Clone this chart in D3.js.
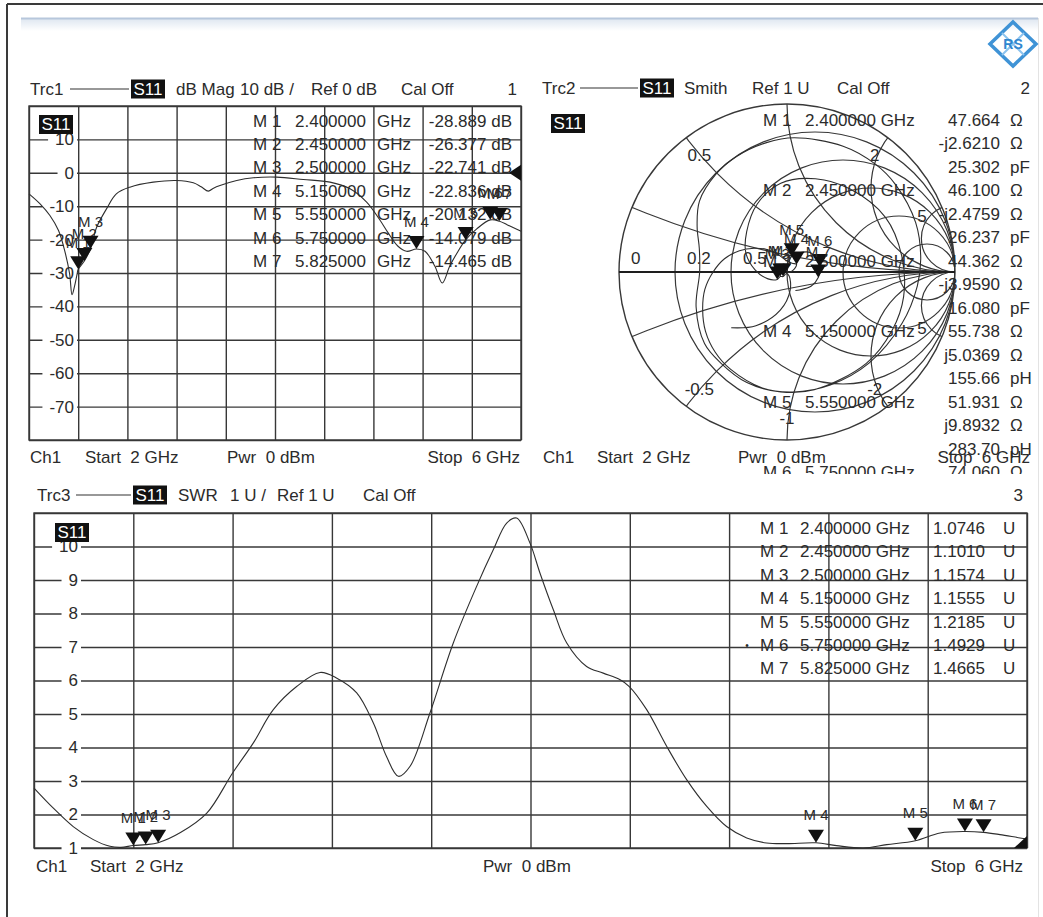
<!DOCTYPE html>
<html>
<head>
<meta charset="utf-8">
<script src="https://cdn.jsdelivr.net/npm/d3@7"></script>
<style>
  body { margin: 0; background: #fff; }
  svg text { font-family: "Liberation Sans", Arial, sans-serif; fill: #2b2b2b; white-space: pre; }
</style>
</head>
<body>
<svg id="vna" width="1043" height="917"></svg>
<script>
// ---------- data ----------
const markerNames = ["M 1", "M 2", "M 3", "M 4", "M 5", "M 6", "M 7"];
const markerFreqs = [2.4, 2.45, 2.5, 5.15, 5.55, 5.75, 5.825];
const markerFreqLabels = ["2.400000", "2.450000", "2.500000", "5.150000", "5.550000", "5.750000", "5.825000"];
const markerDb = [-28.889, -26.377, -22.741, -22.836, -20.132, -14.079, -14.465];
const markerSwr = [1.0746, 1.1010, 1.1574, 1.1555, 1.2185, 1.4929, 1.4665];

const smithReadout = [
  ["47.664", "Ω"], ["-j2.6210", "Ω"], ["25.302", "pF"],
  ["46.100", "Ω"], ["-j2.4759", "Ω"], ["26.237", "pF"],
  ["44.362", "Ω"], ["-j3.9590", "Ω"], ["16.080", "pF"],
  ["55.738", "Ω"], ["j5.0369", "Ω"], ["155.66", "pH"],
  ["51.931", "Ω"], ["j9.8932", "Ω"], ["283.70", "pH"],
  ["74.060", "Ω"]
];
// reflection coefficient (re, im) of each marker on the Smith chart
const smithMarkerGamma = [[-0.023, -0.027], [-0.040, -0.027], [-0.058, -0.044],
  [0.057, 0.045], [0.028, 0.094], [0.195, 0.030], [0.186, -0.033]];

const dbFreq = [2.0, 2.09, 2.17, 2.24, 2.29, 2.33, 2.35, 2.37, 2.39, 2.4, 2.45, 2.5, 2.55, 2.63, 2.71,
  2.82, 3.01, 3.2, 3.336, 3.40, 3.458, 3.50, 3.553, 3.689, 3.824, 4.014, 4.23, 4.447, 4.61, 4.745,
  4.85, 4.92, 5.0, 5.07, 5.15, 5.22, 5.30, 5.36, 5.42, 5.48, 5.55, 5.64, 5.75, 5.825, 5.89, 5.97, 6.0];
const dbVal = [-6.3, -9.3, -12.8, -17.3, -23.3, -30.2, -36.5, -34, -30.5, -28.9, -26.4, -22.7, -16.3, -10.8, -6.3,
  -4.3, -2.8, -2.3, -3.0, -4.2, -5.5, -4.6, -3.8, -2.3, -1.5, -1.3, -2.0, -2.8, -4.8, -8.8,
  -14, -18, -22, -23.5, -22.8, -23.5, -28, -33, -28, -24, -20.1, -16.8, -14.1, -14.5, -15.6, -17.0, -17.5];

const swrFreq = [2.0, 2.078, 2.158, 2.239, 2.306, 2.35, 2.4, 2.45, 2.5, 2.59, 2.696, 2.80, 2.883, 2.964,
  3.058, 3.152, 3.22, 3.30, 3.367, 3.42, 3.468, 3.515, 3.595, 3.689, 3.783, 3.85, 3.904, 3.944, 3.998,
  4.038, 4.092, 4.146, 4.226, 4.293, 4.361, 4.398, 4.468, 4.549, 4.629, 4.710, 4.790, 4.871, 4.951,
  5.032, 5.15, 5.233, 5.341, 5.435, 5.55, 5.65, 5.75, 5.825, 5.891, 5.972, 6.0];
const swrVal = [2.79, 2.19, 1.64, 1.25, 1.05, 1.02, 1.0746, 1.10, 1.157, 1.46, 2.04, 3.24, 4.13, 5.13,
  5.82, 6.24, 6.07, 5.63, 4.73, 3.73, 3.14, 3.44, 5.03, 7.12, 8.81, 9.9, 10.7, 10.85, 10.1,
  9.21, 8.11, 7.12, 6.42, 6.22, 6.02, 5.82, 5.13, 4.03, 3.04, 2.24, 1.64, 1.30, 1.15,
  1.13, 1.1555, 1.07, 1.0, 1.1, 1.2185, 1.45, 1.4929, 1.4665, 1.40, 1.30, 1.27];

const smithTrace = [[-0.332, -0.332], [-0.185, -0.320], [-0.040, -0.227], [0.019, -0.108], [0.012, -0.022],
  [-0.005, -0.010], [-0.023, -0.027], [-0.040, -0.027], [-0.058, -0.044], [-0.113, -0.041], [-0.190, 0.013],
  [-0.245, 0.114], [-0.240, 0.240], [-0.179, 0.402], [-0.037, 0.529], [0.169, 0.555], [0.373, 0.495],
  [0.586, 0.325], [0.683, 0.096], [0.694, -0.148], [0.626, -0.347], [0.472, -0.544], [0.162, -0.701],
  [-0.037, -0.714], [-0.239, -0.658], [-0.394, -0.542], [-0.491, -0.426], [-0.541, -0.208], [-0.520, 0.0],
  [-0.522, 0.140], [-0.535, 0.272], [-0.521, 0.422], [-0.423, 0.582], [-0.305, 0.685], [-0.122, 0.770],
  [0.042, 0.799], [0.334, 0.749], [0.522, 0.645], [0.645, 0.522], [0.766, 0.294], [0.796, 0.084],
  [0.776, -0.082], [0.685, -0.305], [0.488, -0.542], [0.258, -0.672], [0.037, -0.714], [-0.147, -0.690],
  [-0.335, -0.580], [-0.428, -0.476], [-0.485, -0.353], [-0.502, -0.224], [-0.489, -0.104], [-0.440, 0.0],
  [-0.372, 0.079], [-0.283, 0.126], [-0.194, 0.141], [-0.120, 0.134], [-0.065, 0.113], [-0.006, 0.070],
  [0.030, 0.052], [0.057, 0.045], [0.035, 0.010], [0.005, 0.0], [0.010, 0.050], [0.028, 0.094],
  [0.138, 0.116], [0.195, 0.030], [0.186, -0.033], [0.145, -0.083], [0.075, -0.107], [0.050, -0.110]];

const freqGrid = [2.0, 2.4, 2.8, 3.2, 3.6, 4.0, 4.4, 4.8, 5.2, 5.6, 6.0];
const dbTicks = [10, 0, -10, -20, -30, -40, -50, -60, -70];
const dbGrid = [20, 10, 0, -10, -20, -30, -40, -50, -60, -70, -80];
const swrTicks = [10, 9, 8, 7, 6, 5, 4, 3, 2, 1];
const swrGrid = [11, 10, 9, 8, 7, 6, 5, 4, 3, 2, 1];
const smithR = [0.2, 0.5, 1, 2, 5];
const smithX = [0.2, 0.5, 1, 2, 5, -0.2, -0.5, -1, -2, -5];
const smithRLabels = [[0, "0"], [0.2, "0.2"], [0.5, "0.5"]];
const smithXLabels = [[0.5, "0.5"], [2, "2"], [5, "5"], [-0.5, "-0.5"], [-1, "-1"], [-2, "-2"], [-5, "5"]];

// ---------- helpers ----------
const GRID = "#383838";
const svg = d3.select("#vna");

function txt(g, x, y, s, opt = {}) {
  return g.append("text")
    .attr("x", x).attr("y", y).attr("dy", "0.35em")
    .attr("text-anchor", opt.anchor || "start")
    .style("font-size", (opt.size || 17) + "px")
    .style("fill", opt.fill || null)
    .text(s);
}

function s11Box(g, x, y) {
  g.append("rect").attr("x", x).attr("y", y).attr("width", 34).attr("height", 19).attr("fill", "#111");
  txt(g, x + 17, y + 9.5, "S11", { anchor: "middle", fill: "#fff" });
}

function header(g, y, o) {
  txt(g, o.trc[0], y, o.trc[1]);
  g.append("line").attr("x1", o.line[0]).attr("x2", o.line[1]).attr("y1", y).attr("y2", y)
    .attr("stroke", "#333").attr("stroke-width", 1.2);
  s11Box(g, o.box, y - 9.5);
  o.items.forEach(([x, s]) => txt(g, x, y, s));
  txt(g, o.num[0], y, o.num[1], { anchor: "end" });
}

function footer(g, y, o) {
  txt(g, o.ch, y, "Ch1");
  txt(g, o.start, y, "Start  2 GHz");
  txt(g, o.pwr, y, "Pwr  0 dBm");
  txt(g, o.stop, y, "Stop  6 GHz", { anchor: "end" });
}

function marker(g, x, y, name, lift) {
  g.append("path").attr("d", `M${x - 8},${y - 13}L${x + 8},${y - 13}L${x},${y}Z`).attr("fill", "#111");
  txt(g, x, y - lift, name, { anchor: "middle", size: 15 });
}

function rectGrid(g, x, y, xTicks, yTicks) {
  const [xl, xr] = x.range(), [yb, yt] = y.range();
  g.append("g").attr("transform", `translate(0,${yb})`)
    .call(d3.axisBottom(x).tickValues(xTicks).tickSize(yt - yb).tickFormat(""))
    .call(a => a.select(".domain").remove());
  g.append("g").attr("transform", `translate(${xl},0)`)
    .call(d3.axisLeft(y).tickValues(yTicks).tickSize(xl - xr).tickFormat(""))
    .call(a => a.select(".domain").remove());
  g.selectAll(".tick line").attr("stroke", GRID).attr("stroke-width", 1.4);
  g.append("rect").attr("x", xl).attr("y", yt).attr("width", xr - xl).attr("height", yb - yt)
    .attr("fill", "none").attr("stroke", GRID).attr("stroke-width", 1.4);
}

function yLabels(g, y, ticks, right) {
  ticks.forEach(v => {
    const t = txt(g, right, y(v), String(v), { anchor: "end" });
    const w = t.node().getComputedTextLength();
    g.insert("rect", () => t.node()).attr("x", right - w - 7).attr("y", y(v) - 8)
      .attr("width", w + 10).attr("height", 16).attr("fill", "#fff");
  });
}

// ---------- page frame ----------
const defs = svg.append("defs");
const grad = defs.append("linearGradient").attr("id", "fade").attr("x1", 0).attr("x2", 0).attr("y1", 0).attr("y2", 1);
grad.append("stop").attr("offset", 0).attr("stop-color", "#dfe7f1");
grad.append("stop").attr("offset", 1).attr("stop-color", "#ffffff");
svg.append("rect").attr("x", 21).attr("y", 19).attr("width", 1017).attr("height", 12).attr("fill", "url(#fade)");
svg.append("line").attr("x1", 21).attr("x2", 1038).attr("y1", 18.5).attr("y2", 18.5).attr("stroke", "#b7c7dc").attr("stroke-width", 2);
svg.append("line").attr("x1", 1038.5).attr("x2", 1038.5).attr("y1", 18).attr("y2", 917).attr("stroke", "#e3e3e3");
svg.append("line").attr("x1", 7).attr("x2", 1043).attr("y1", 4).attr("y2", 4).attr("stroke", "#3a3a3a").attr("stroke-width", 2);
svg.append("line").attr("x1", 7).attr("x2", 7).attr("y1", 4).attr("y2", 917).attr("stroke", "#3a3a3a").attr("stroke-width", 2);

// R&S logo
const logo = svg.append("g").attr("transform", "translate(1013,44)");
logo.append("path").attr("d", "M0,-22L23,0L0,22L-23,0Z").attr("fill", "none").attr("stroke", "#3f93d6").attr("stroke-width", 3.5);
logo.append("path").attr("d", "M-11,-11L11,11M11,-11L-11,11").attr("stroke", "#8cc3ee").attr("stroke-width", 2);
txt(logo, 0, 0, "RS", { anchor: "middle", size: 14, fill: "#2f86cf" }).style("font-weight", "bold");

// ---------- trace 1 : dB magnitude ----------
const x1 = d3.scaleLinear().domain([2, 6]).range([29, 521]);
const y1 = d3.scaleLinear().domain([-80, 20]).range([440, 106]);
const p1 = svg.append("g");
header(p1, 89, { trc: [30, "Trc1"], line: [70, 129], box: 131,
  items: [[176, "dB Mag"], [240, "10 dB /"], [311, "Ref 0 dB"], [401, "Cal Off"]], num: [517, "1"] });
rectGrid(p1, x1, y1, freqGrid, dbGrid);
yLabels(p1, y1, dbTicks, 74);
p1.append("path").datum(dbFreq.map((f, i) => [f, dbVal[i]]))
  .attr("d", d3.line().x(d => x1(d[0])).y(d => y1(d[1])).curve(d3.curveCatmullRom))
  .attr("fill", "none").attr("stroke", "#2e2e2e").attr("stroke-width", 1.1);
markerNames.forEach((m, i) => {
  const y = 120.7 + 23.4 * i;
  txt(p1, 253, y, m);
  txt(p1, 295, y, markerFreqLabels[i]);
  txt(p1, 377, y, "GHz");
  txt(p1, 512, y, markerDb[i].toFixed(3) + " dB", { anchor: "end" });
});
markerNames.forEach((m, i) => marker(p1, x1(markerFreqs[i]), y1(markerDb[i]), m, 27));
p1.append("path").attr("d", `M${x1(6)},${y1(0) - 8}L${x1(6)},${y1(0) + 8}L${x1(6) - 12},${y1(0)}Z`).attr("fill", "#111");
s11Box(p1, 39, 115);
footer(p1, 457, { ch: 30, start: 85, pwr: 227, stop: 520 });

// ---------- trace 2 : Smith chart ----------
const sx = d3.scaleLinear().domain([-1, 1]).range([619, 955]);
const sy = d3.scaleLinear().domain([-1, 1]).range([440, 104]);
const R = sx(1) - sx(0);
const p2 = svg.append("g");
header(p2, 88, { trc: [542, "Trc2"], line: [580, 638], box: 640,
  items: [[684, "Smith"], [752, "Ref 1 U"], [837, "Cal Off"]], num: [1030, "2"] });
defs.append("clipPath").attr("id", "unit").append("circle").attr("cx", sx(0)).attr("cy", sy(0)).attr("r", R);
defs.append("clipPath").attr("id", "p2clip").append("rect").attr("x", 536).attr("y", 70).attr("width", 500).attr("height", 404);

const sg = p2.append("g").attr("clip-path", "url(#unit)");
smithR.forEach(r => sg.append("circle").attr("cx", sx(r / (1 + r))).attr("cy", sy(0)).attr("r", R / (1 + r))
  .attr("fill", "none").attr("stroke", GRID).attr("stroke-width", 1.2));
smithX.forEach(x => sg.append("circle").attr("cx", sx(1)).attr("cy", sy(1 / x)).attr("r", R / Math.abs(x))
  .attr("fill", "none").attr("stroke", GRID).attr("stroke-width", 1.2));
p2.append("circle").attr("cx", sx(0)).attr("cy", sy(0)).attr("r", R).attr("fill", "none").attr("stroke", GRID).attr("stroke-width", 1.4);
p2.append("line").attr("x1", sx(-1)).attr("x2", sx(1)).attr("y1", sy(0)).attr("y2", sy(0)).attr("stroke", "#1e1e1e").attr("stroke-width", 1.8);
smithRLabels.forEach(([r, s]) => txt(p2, sx((r - 1) / (r + 1)) + 12, sy(0) - 14, s));
smithXLabels.forEach(([x, s]) => {
  const a = Math.atan2(2 * x, x * x - 1);
  txt(p2, sx(0.87 * Math.cos(a)), sy(0.87 * Math.sin(a)), s, { anchor: "middle" });
});
p2.append("path").datum(smithTrace)
  .attr("d", d3.line().x(d => sx(d[0])).y(d => sy(d[1])).curve(d3.curveCatmullRom))
  .attr("fill", "none").attr("stroke", "#2e2e2e").attr("stroke-width", 1.1);

const tbl = p2.append("g").attr("clip-path", "url(#p2clip)");
smithReadout.forEach(([v, u], i) => {
  const y = 120 + 23.5 * i;
  if (i % 3 === 0) {
    const k = i / 3;
    txt(tbl, 763, y, markerNames[k]);
    txt(tbl, 805, y, markerFreqLabels[k] + " GHz");
  }
  txt(tbl, 1000, y, v, { anchor: "end" });
  txt(tbl, 1010, y, u);
});
smithMarkerGamma.forEach(([re, im], i) => marker(p2, sx(re), sy(im), markerNames[i], 26));
s11Box(p2, 551, 114);
footer(p2, 457, { ch: 543, start: 597, pwr: 738, stop: 1030 });

// ---------- trace 3 : SWR ----------
const x3 = d3.scaleLinear().domain([2, 6]).range([34, 1027]);
const y3 = d3.scaleLinear().domain([1, 11]).range([848, 513]);
const p3 = svg.append("g");
header(p3, 495, { trc: [37, "Trc3"], line: [76, 131], box: 133,
  items: [[178, "SWR"], [230, "1 U /"], [277, "Ref 1 U"], [363, "Cal Off"]], num: [1023, "3"] });
rectGrid(p3, x3, y3, freqGrid, swrGrid);
yLabels(p3, y3, swrTicks, 78);
p3.append("path").datum(swrFreq.map((f, i) => [f, swrVal[i]]))
  .attr("d", d3.line().x(d => x3(d[0])).y(d => y3(d[1])).curve(d3.curveCatmullRom))
  .attr("fill", "none").attr("stroke", "#2e2e2e").attr("stroke-width", 1.1);
markerNames.forEach((m, i) => {
  const y = 528 + 23.4 * i;
  txt(p3, 760, y, m);
  txt(p3, 800, y, markerFreqLabels[i] + " GHz");
  txt(p3, 933, y, markerSwr[i].toFixed(4));
  txt(p3, 1003, y, "U");
});
txt(p3, 747, 528 + 23.4 * 5, "•", { anchor: "middle", size: 10 });
markerNames.forEach((m, i) => marker(p3, x3(markerFreqs[i]), y3(markerSwr[i]), m, 28));
defs.append("clipPath").attr("id", "p3clip").append("rect").attr("x", 34).attr("y", 513).attr("width", 993).attr("height", 335);
p3.append("path").attr("clip-path", "url(#p3clip)")
  .attr("d", `M${x3(6)},${y3(1) - 12}L${x3(6)},${y3(1) + 12}L${x3(6) - 13},${y3(1)}Z`).attr("fill", "#111");
s11Box(p3, 55, 523);
footer(p3, 866, { ch: 36, start: 90, pwr: 483, stop: 1023 });
</script>
</body>
</html>
